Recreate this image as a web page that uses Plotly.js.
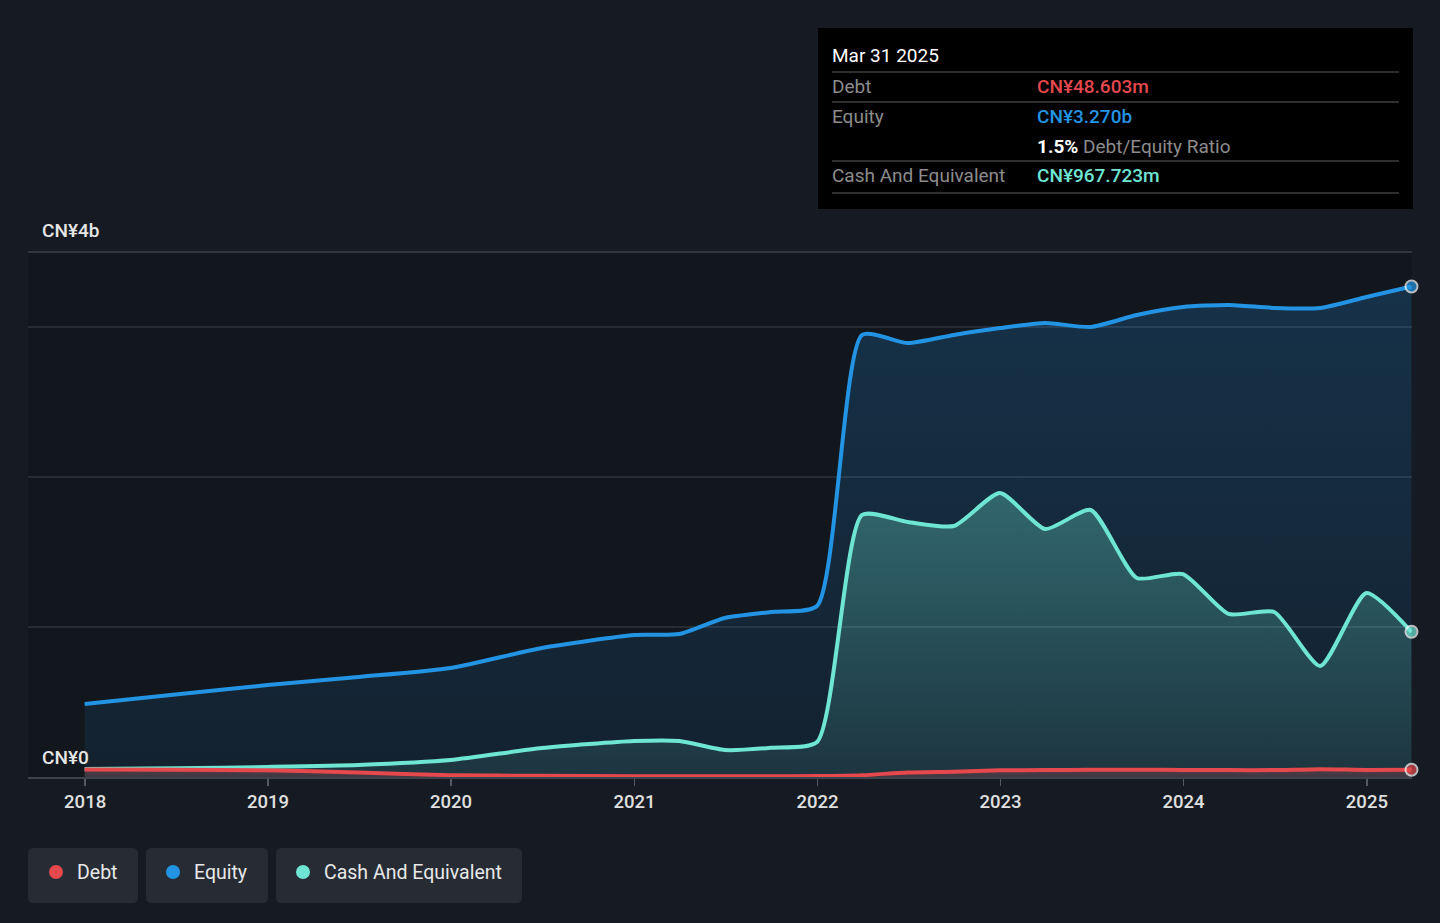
<!DOCTYPE html>
<html>
<head>
<meta charset="utf-8">
<script src="https://cdn.plot.ly/plotly-3.0.1.min.js"></script>
<style>
  html,body{margin:0;padding:0;background:#161b23;}
  #chart{width:1440px;height:923px;}
</style>
</head>
<body>
<div id="chart"></div>
<script>
// data (CN¥ billions)
const dates=["2017-12-31","2018-06-30","2018-12-31","2019-06-30","2019-12-31","2020-06-30","2020-12-31","2021-03-31","2021-06-30","2021-09-30","2021-12-31","2022-03-31","2022-06-30","2022-09-30","2022-12-31","2023-03-31","2023-06-30","2023-09-30","2023-12-31","2024-03-31","2024-06-30","2024-09-30","2024-12-31","2025-03-31"];
const equity=[0.487,0.55,0.613,0.667,0.727,0.86,0.947,0.953,1.06,1.10,1.14,2.947,2.893,2.947,2.993,3.027,3.0,3.08,3.133,3.147,3.127,3.127,3.2,3.27];
const cash=[0.053,0.058,0.067,0.08,0.113,0.193,0.24,0.24,0.18,0.195,0.233,1.747,1.70,1.673,1.893,1.653,1.78,1.327,1.353,1.087,1.10,0.74,1.227,0.968];
const debt=[0.05,0.048,0.045,0.03,0.012,0.008,0.005,0.005,0.005,0.005,0.006,0.012,0.03,0.035,0.045,0.046,0.048,0.048,0.047,0.046,0.046,0.052,0.047,0.0486];
const yearTicks=["2018-01-01","2019-01-01","2020-01-01","2021-01-01","2022-01-01","2023-01-01","2024-01-01","2025-01-01"];
const yearLabels=["2018","2019","2020","2021","2022","2023","2024","2025"];
const legendNames=["Debt","Equity","Cash And Equivalent"];
const tipDate="Mar 31 2025";
const tipDebt="CN¥48.603m";
const tipEquity="CN¥3.270b";
const tipRatio="1.5%";
const tipCash="CN¥967.723m";

const RED="#e5484d",BLUE="#2394e4",TEAL="#6ee6d3";
const FONT="Roboto, sans-serif";

// pixel -> paper helpers (plot area 28..1412 x, 252..777 y)
const L=28,R=1412,T=252,B=777;
const px=x=>(x-L)/(R-L);
const py=y=>(B-y)/(B-T);

const lastSize=arr=>arr.map((_,i)=>i===arr.length-1?12:0);

function series(y,color,fillBottom,fillTop,stop){
    return {
        x:dates,y:y,type:"scatter",mode:"lines+markers",
        line:{color:color,width:4,shape:"spline",smoothing:0.6},
        marker:{size:lastSize(y),color:color,line:{color:"#ffffff",width:2}},
        cliponaxis:false,
        fill:"tozeroy",
        fillgradient:{type:"vertical",start:0,stop:stop,colorscale:[[0,fillBottom],[1,fillTop]]},
        hoverinfo:"skip",showlegend:false
    };
}

const data=[
    series(equity,BLUE,"rgba(35,148,228,0.09)","rgba(35,148,228,0.22)",3.3),
    series(cash,TEAL,"rgba(110,230,211,0.10)","rgba(110,230,211,0.32)",1.9),
    series(debt,RED,"rgba(229,72,77,0.15)","rgba(229,72,77,0.3)",0.06)
];

function roundRect(x0,y0,x1,y1,r){
    const a=px(x0),b=px(x1),c=py(y0),d=py(y1);
    const rx=r/(R-L),ry=r/(B-T);
    return `M${a+rx},${c} L${b-rx},${c} Q${b},${c} ${b},${c-ry} L${b},${d+ry} Q${b},${d} ${b-rx},${d} L${a+rx},${d} Q${a},${d} ${a},${d+ry} L${a},${c-ry} Q${a},${c} ${a+rx},${c} Z`;
}

const shapes=[
    // top line
    {type:"line",xref:"paper",yref:"paper",x0:0,x1:1,y0:1,y1:1,line:{color:"#3c414a",width:1.5},layer:"below"},
    // tooltip box
    {type:"rect",xref:"paper",yref:"paper",x0:px(818),x1:px(1413),y0:py(28),y1:py(209),fillcolor:"#000000",line:{width:0}},
];
[72,102,161,193].forEach(y=>shapes.push({type:"line",xref:"paper",yref:"paper",x0:px(832),x1:px(1399),y0:py(y),y1:py(y),line:{color:"#3f3f3f",width:1.5}}));

// legend chips
const chips=[[28,138,56,75,RED],[146,268,173,192,BLUE],[276,522,303,322,TEAL]];
chips.forEach(c=>{
    shapes.push({type:"path",xref:"paper",yref:"paper",path:roundRect(c[0],848,c[1],903,6),fillcolor:"#262b34",line:{width:0}});
    shapes.push({type:"circle",xref:"paper",yref:"paper",x0:px(c[2]-7),x1:px(c[2]+7),y0:py(865),y1:py(879),fillcolor:c[4],line:{width:0}});
});

const ann=(x,y,text,color,size,weight,anchor)=>({xref:"paper",yref:"paper",x:px(x),y:py(y),text:text,showarrow:false,
    xanchor:anchor||"left",yanchor:"middle",font:{family:FONT,size:size,color:color,weight:weight||400}});

const annotations=[
    ann(40,230,"CN¥4b","#e6e6e6",19,500),
    ann(40,757,"CN¥0","#e6e6e6",19,500),
    ann(830,55,tipDate,"#ffffff",19,400),
    ann(830,86,"Debt","#8c8c8c",19),
    ann(1035,86,tipDebt,RED,19,500),
    ann(830,116,"Equity","#8c8c8c",19),
    ann(1035,116,tipEquity,BLUE,19,500),
    ann(1035,146,"<b>"+tipRatio+"</b> <span style='color:#8c8c8c'>Debt/Equity Ratio</span>","#ffffff",19,400),
    ann(830,176,"Cash And Equivalent","#8c8c8c",19),
    ann(1035,176,tipCash,TEAL,19,500),
];
chips.forEach((c,i)=>annotations.push(ann(c[3],872,legendNames[i],"#e8e8e8",19.5,400)));

const layout={
    width:1440,height:923,
    paper_bgcolor:"#161b23",
    plot_bgcolor:"#12161d",
    margin:{l:L,r:1440-R,t:T,b:923-B,pad:0},
    showlegend:false,
    font:{family:FONT,color:"#e0e0e0"},
    xaxis:{
        type:"date",range:["2017-09-09","2025-04-01"],
        tickvals:yearTicks,ticktext:yearLabels,
        showgrid:false,zeroline:false,
        showline:true,linecolor:"#3e434b",linewidth:1.5,
        ticks:"outside",ticklen:7,tickcolor:"#555a62",tickwidth:1.5,
        ticklabelstandoff:0,
        tickfont:{family:FONT,size:18.5,color:"#e0e0e0",weight:500},
        fixedrange:true
    },
    yaxis:{
        range:[0,3.5],tickvals:[1,2,3],showticklabels:false,
        showgrid:true,gridcolor:"#282d35",gridwidth:1.5,zeroline:false,
        fixedrange:true
    },
    shapes:shapes,
    annotations:annotations,
    hovermode:false
};

Plotly.newPlot("chart",data,layout,{displayModeBar:false,staticPlot:true});
</script>
</body>
</html>
